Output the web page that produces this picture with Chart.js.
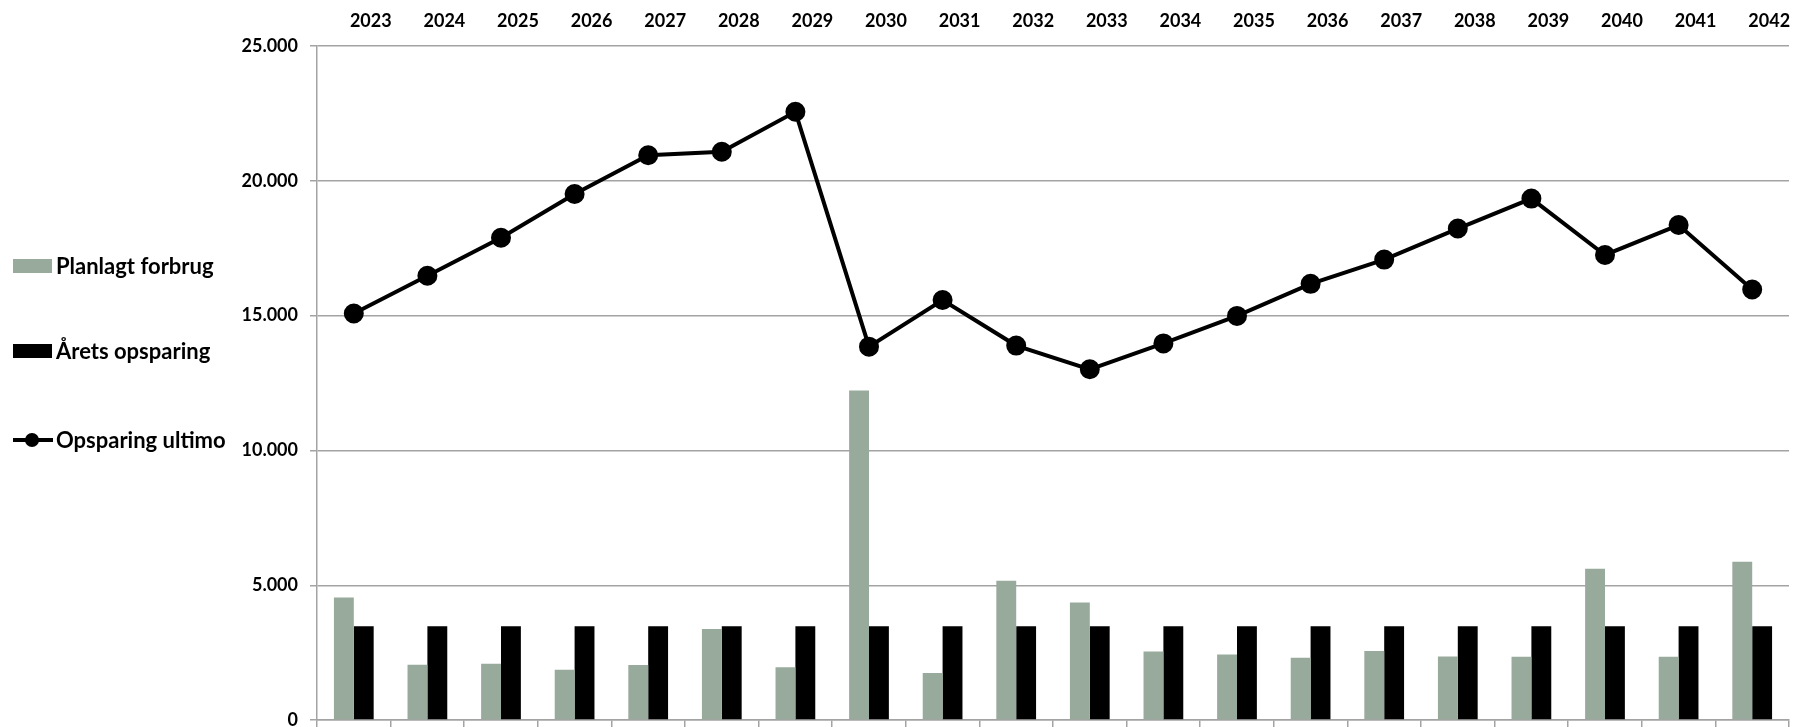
<!DOCTYPE html>
<html>
<head>
<meta charset="utf-8">
<script src="https://cdn.jsdelivr.net/npm/chart.js@4.4.1/dist/chart.umd.min.js"></script>
<style>
  html, body { margin: 0; background: #fff; overflow: hidden; }
  /* a few px taller than the window so the plot floor lands where the original has it */
  #wrap { width: 1801px; height: 733px; position: relative; }
</style>
</head>
<body>
<div id="wrap"><canvas id="chart"></canvas></div>
<script>
// categories
const years = ['2023', '2024', '2025', '2026', '2027', '2028', '2029', '2030', '2031', '2032',
               '2033', '2034', '2035', '2036', '2037', '2038', '2039', '2040', '2041', '2042'];

// series
const planlagtForbrug = [4550, 2050, 2090, 1870, 2040, 3380, 1960, 12220, 1750, 5170,
                         4360, 2540, 2430, 2310, 2560, 2360, 2350, 5610, 2350, 5870];
const aretsOpsparing  = [3480, 3480, 3480, 3480, 3480, 3480, 3480, 3480, 3480, 3480,
                         3480, 3480, 3480, 3480, 3480, 3480, 3480, 3480, 3480, 3480];
const opsparingUltimo = [15080, 16480, 17890, 19510, 20950, 21080, 22560, 13850, 15580, 13890,
                         13010, 13970, 14990, 16180, 17080, 18230, 19340, 17250, 18360, 15970];

// y axis ticks
const yTicks = [0, 5000, 10000, 15000, 20000, 25000];

const seriesNames = ['Planlagt forbrug', 'Årets opsparing', 'Opsparing ultimo'];

const GREEN = '#97aa9b';
const GRID = '#a3a3a3';

Chart.defaults.font.family = 'Lato, "Open Sans", sans-serif';
Chart.defaults.font.weight = 'bold';
Chart.defaults.color = '#000';

// thousands separator with a dot, like the original
function fmt(v) {
    return String(v).replace(/\B(?=(\d{3})+(?!\d))/g, '.');
}

// legend on the left, drawn by hand so the line item gets its marker
const sideLegend = {
    id: 'sideLegend',
    afterDraw(chart) {
        const ctx = chart.ctx;
        const items = [
            { y: 266, kind: 'box', color: GREEN },
            { y: 351, kind: 'box', color: '#000' },
            { y: 440, kind: 'line', color: '#000' }
        ];
        ctx.save();
        ctx.font = 'bold 22px Lato, "Open Sans", sans-serif';
        ctx.textBaseline = 'middle';
        items.forEach((it, i) => {
            if (it.kind === 'box') {
                ctx.fillStyle = it.color;
                ctx.fillRect(13, it.y - 7, 39, 14);
            } else {
                ctx.strokeStyle = it.color;
                ctx.lineWidth = 4;
                ctx.beginPath();
                ctx.moveTo(13, it.y);
                ctx.lineTo(53, it.y);
                ctx.stroke();
                ctx.fillStyle = it.color;
                ctx.beginPath();
                ctx.arc(32, it.y, 7, 0, Math.PI * 2);
                ctx.fill();
            }
            ctx.fillStyle = '#000';
            ctx.fillText(seriesNames[i], 56, it.y + 1);
        });
        ctx.restore();
    }
};

const ctx = document.getElementById('chart').getContext('2d');
new Chart(ctx, {
    type: 'bar',
    data: {
        labels: years,
        datasets: [
            {
                type: 'line',
                label: seriesNames[2],
                data: opsparingUltimo,
                borderColor: '#000',
                backgroundColor: '#000',
                borderWidth: 4,
                pointRadius: 8,
                pointHoverRadius: 8,
                tension: 0,
                order: 0
            },
            {
                label: seriesNames[0],
                data: planlagtForbrug,
                backgroundColor: GREEN,
                categoryPercentage: 0.54,
                barPercentage: 1.0,
                order: 1
            },
            {
                label: seriesNames[1],
                data: aretsOpsparing,
                backgroundColor: '#000',
                categoryPercentage: 0.54,
                barPercentage: 1.0,
                order: 2
            }
        ]
    },
    options: {
        responsive: true,
        maintainAspectRatio: false,
        animation: false,
        layout: { padding: { left: 0, right: 4, top: 0, bottom: 0 } },
        plugins: {
            legend: { display: false },
            tooltip: { enabled: false }
        },
        scales: {
            x: {
                type: 'category',
                position: 'bottom',
                offset: true,
                grid: {
                    offset: true,
                    drawOnChartArea: false,
                    drawTicks: true,
                    tickLength: 7,
                    color: GRID,
                    lineWidth: 1.5
                },
                border: { display: true, color: GRID, width: 1.5 },
                ticks: { display: false },
                afterFit(scale) { scale.height = 7; scale.paddingLeft = 0; scale.paddingRight = 0; }
            },
            xTop: {
                type: 'category',
                position: 'top',
                offset: true,
                grid: { display: false },
                border: { display: false },
                ticks: {
                    font: { size: 18, weight: 'bold' },
                    labelOffset: 17,
                    padding: 6,
                    maxRotation: 0,
                    autoSkip: false
                },
                afterFit(scale) { scale.height = 46; scale.paddingLeft = 0; scale.paddingRight = 0; }
            },
            y: {
                min: yTicks[0],
                max: yTicks[yTicks.length - 1],
                afterBuildTicks(scale) { scale.ticks = yTicks.map(v => ({ value: v })); },
                grid: {
                    color: GRID,
                    lineWidth: 1.5,
                    tickLength: 7
                },
                border: { display: true, color: GRID, width: 1.5 },
                ticks: {
                    // tiny lineHeight keeps the "0" label from pushing the plot up
                    font: { size: 18, weight: 'bold', lineHeight: 0.1 },
                    padding: 12,
                    callback: v => fmt(v)
                },
                afterFit(scale) { scale.width = 317; }
            }
        }
    },
    plugins: [sideLegend]
});
</script>
</body>
</html>
